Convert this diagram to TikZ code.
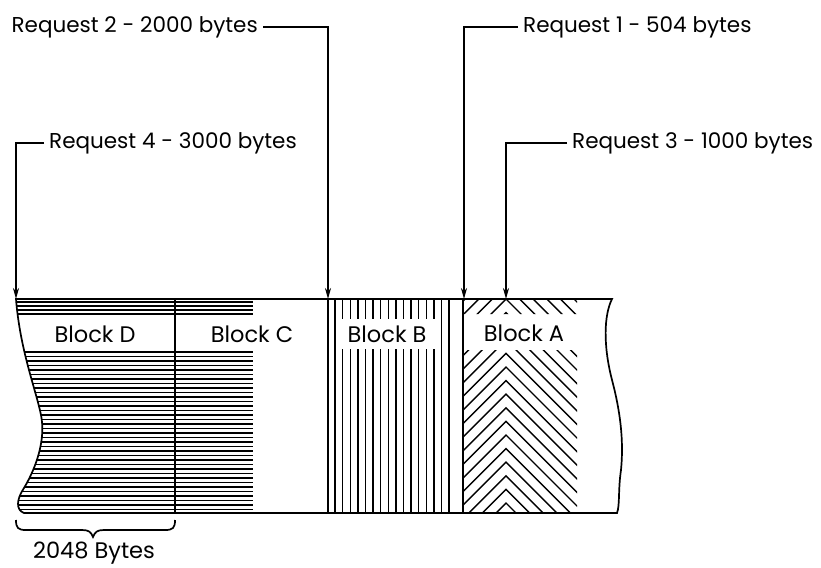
\documentclass[tikz,border=0pt]{standalone}
\usepackage{fontspec}
\setmainfont{Poppins}
\usetikzlibrary{arrows.meta, positioning}

\newcommand{\storebar}{(16,299) -- (612,299)
  .. controls (604,315) and (603,345) .. (612,380)
  .. controls (620,410) and (624,440) .. (621,470)
  .. controls (618,490) and (620,505) .. (617,513)
  -- (24,513) .. controls (16,510) and (16,500) .. (24,488)
  .. controls (36,468) and (46,440) .. (41,415)
  .. controls (36,390) and (20,350) .. (16,299) -- cycle}

\tikzset{
  req/.style={inner xsep=5pt, inner ysep=2pt, font=\fontsize{21.5}{24}\selectfont},
  blk/.style={inner sep=0pt, font=\fontsize{22.5}{26}\selectfont},
  wire/.style={line width=1.7pt},
  ptr/.style={wire, -{Stealth[length=11pt, width=6pt]}},
  hatch/.style={line width=1.4pt},
}

\begin{document}
\begin{tikzpicture}[x=1pt, y=-1pt]
  \useasboundingbox (0,0) rectangle (821,567);
  % landing points on the top edge
  \coordinate (tipD) at (16,299);
  \coordinate (tipB) at (328,299);
  \coordinate (tipG) at (464,299);
  \coordinate (tipA) at (506,299);

  % horizontal hatching, blocks D and C
  \begin{scope}
    \clip \storebar;
    \foreach \y in {302,306,...,316,352,356.5,...,512}
      \draw[hatch] (0,\y) -- (253,\y);
  \end{scope}

  % vertical hatching, block B
  \foreach \k in {0,...,15}
    \draw[hatch] (335+7.6*\k,299) -- (335+7.6*\k,513);

  % chevron hatching, block A
  \begin{scope}
    \clip (463,299) rectangle (577,314) (463,350) rectangle (577,513);
    \foreach \k in {-9,...,16}
      \draw[hatch] (446,299+13.6*\k+60) -- (506,299+13.6*\k) -- (586,299+13.6*\k+80);
  \end{scope}

  % block labels
  \node[blk](lblD) at (95,334){Block D};
  \node[blk](lblC) at (252,334){Block C};
  \node[blk, fill=white, minimum width=95pt, minimum height=30pt](lblB) at (387,334){Block B};
  \node[blk](lblA) at (524,333){Block A};

  % outline and block boundaries
  \draw[wire] \storebar;
  \draw[wire] (175,299) -- (175,513);
  \draw[wire] (tipB) -- (328,513);
  \draw[wire] (463,299) -- (463,513);

  % requests
  \node[req, anchor=east](req2) at (263,27){Request 2 - 2000 bytes};
  \node[req, anchor=west](req4) at (44,143){Request 4 - 3000 bytes};
  \node[req, anchor=west](req1) at (518,27){Request 1 - 504 bytes};
  \node[req, anchor=west](req3) at (567,143){Request 3 - 1000 bytes};
  \draw[ptr] (req2.east) -| (tipB);
  \draw[ptr] (req4.west) -| (tipD);
  \draw[ptr] (req1.west) -| (tipG);
  \draw[ptr] (req3.west) -| (tipA);

  % size of one block
  \draw[wire] (16,520) .. controls (16,528) and (18,530) .. (26,530) -- (82,530)
    .. controls (89,530) and (91,532) .. (93,537)
    .. controls (95,532) and (97,530) .. (104,530) -- (165,530)
    .. controls (173,530) and (175,528) .. (175,520);
  \node[blk](size) at (94,553){2048 Bytes};
\end{tikzpicture}
\end{document}
